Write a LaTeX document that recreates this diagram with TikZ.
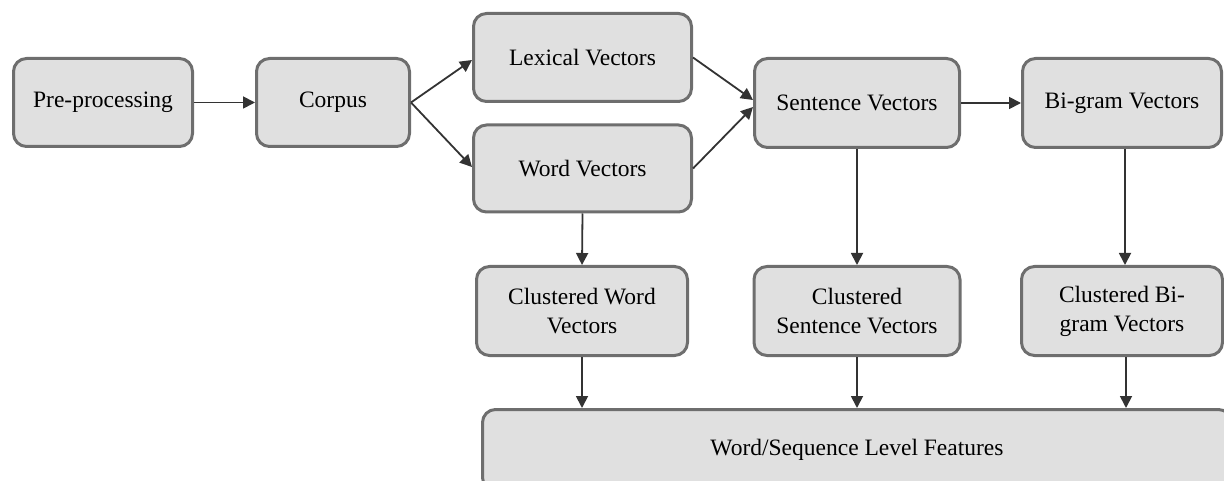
\documentclass[tikz,border=0pt]{standalone}
\usepackage{fontspec}
\setmainfont{Liberation Serif}
\newfontfamily\boxfont{Liberation Serif}
\usetikzlibrary{arrows.meta}
\definecolor{boxfill}{HTML}{E0E0E0}
\definecolor{boxline}{HTML}{6E6E6E}
\definecolor{arrcol}{HTML}{333333}
\tikzset{
  stagebox/.style={draw=boxline, fill=boxfill, line width=3pt, rounded corners=13pt,
    align=center, inner sep=0pt, font=\boxfont\fontsize{23.5}{29}\selectfont, text=black},
  arr/.style={draw=arrcol, line width=1.8pt, -{Triangle[length=12pt,width=12pt]}}
}
\begin{document}
\begin{tikzpicture}[x=1pt,y=-1pt]
\useasboundingbox (0,0) rectangle (1224,481);
\clip (0,0) rectangle (1224,481);
\node[stagebox, minimum width=179pt, minimum height=88pt] (pre) at (103,102.5) {Pre-processing};
\node[stagebox, minimum width=153pt, minimum height=88pt] (corpus) at (333,102.5) {Corpus};
\node[stagebox, minimum width=218pt, minimum height=88pt] (lex) at (582.5,57.5) {Lexical Vectors};
\node[stagebox, minimum width=218pt, minimum height=87pt] (word) at (582.5,168.5) {Word Vectors};
\node[stagebox, minimum width=205pt, minimum height=89pt] (sent) at (857,103) {Sentence Vectors};
\node[stagebox, minimum width=199pt, minimum height=89pt] (bigram) at (1122,103) {Bi-gram Vectors};
\node[stagebox, minimum width=211pt, minimum height=89pt] (cword) at (582,311) {Clustered Word\\Vectors};
\node[stagebox, minimum width=206pt, minimum height=89pt] (csent) at (857,311) {Clustered\\Sentence Vectors};
\node[stagebox, minimum width=201pt, minimum height=89pt] (cbi) at (1122,311) {Clustered Bi-\\gram Vectors};
\node[stagebox, minimum width=749pt, minimum height=81pt] (feat) at (857,450) {Word/Sequence Level Features};
\draw[arr] (pre.east) -- (corpus.west);
\draw[arr] (corpus.east) -- ([yshift=-2.5pt]lex.west);
\draw[arr] (corpus.east) -- ([yshift=1.5pt]word.west);
\draw[arr] (lex.east) -- ([yshift=3pt]sent.west);
\draw[arr] (word.east) -- ([yshift=-4pt]sent.west);
\draw[arr] (sent.east) -- (bigram.west);
\draw[arr] (word.south) -- (cword.north);
\draw[arr] (sent.south) -- (csent.north);
\draw[arr] ([xshift=3pt]bigram.south) -- ([xshift=3pt]cbi.north);
\draw[arr] (cword.south) -- (cword.south |- feat.north);
\draw[arr] (csent.south) -- (csent.south |- feat.north);
\draw[arr] ([xshift=4pt]cbi.south) -- ([xshift=4pt]cbi.south |- feat.north);
\end{tikzpicture}
\end{document}
